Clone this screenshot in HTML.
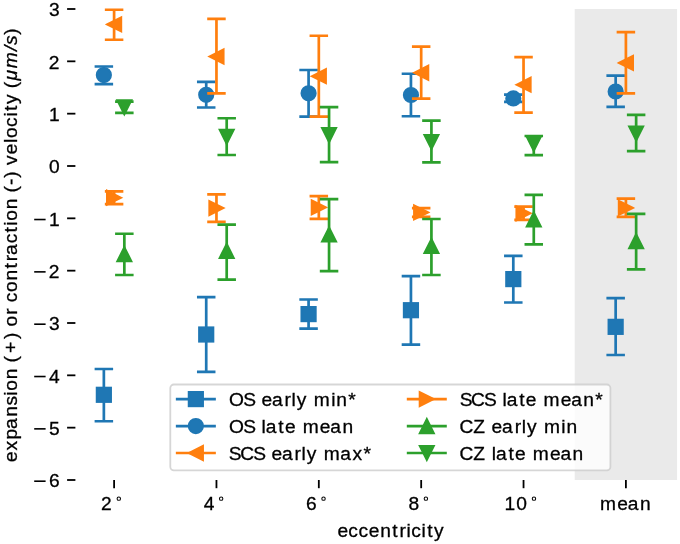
<!DOCTYPE html>
<html><head><meta charset="utf-8"><title>chart</title><style>
html,body{margin:0;padding:0;background:#fff;}
svg{display:block;will-change:transform;}
text{font-family:"Liberation Sans",sans-serif;font-size:19.2px;fill:#000;stroke:#000;stroke-width:0.3px;}
</style></head><body>
<svg width="680" height="544" viewBox="0 0 680 544">
<rect x="0" y="0" width="680" height="544" fill="#fff"/>
<rect x="574.72" y="9" width="102.36" height="471" fill="#eaeaea"/>
<path d="M103.86 369.00V421.25M94.61 369.00H113.11M94.61 421.25H113.11" stroke="#1f77b4" stroke-width="2.7" fill="none"/>
<rect x="96.66" y="387.60" width="14.40" height="14.40" fill="#1f77b4" stroke="#1f77b4" stroke-width="1.8"/>
<path d="M206.22 297.20V371.90M196.97 297.20H215.47M196.97 371.90H215.47" stroke="#1f77b4" stroke-width="2.7" fill="none"/>
<rect x="199.02" y="327.30" width="14.40" height="14.40" fill="#1f77b4" stroke="#1f77b4" stroke-width="1.8"/>
<path d="M308.58 299.50V328.70M299.33 299.50H317.83M299.33 328.70H317.83" stroke="#1f77b4" stroke-width="2.7" fill="none"/>
<rect x="301.38" y="306.90" width="14.40" height="14.40" fill="#1f77b4" stroke="#1f77b4" stroke-width="1.8"/>
<path d="M410.94 276.20V344.60M401.69 276.20H420.19M401.69 344.60H420.19" stroke="#1f77b4" stroke-width="2.7" fill="none"/>
<rect x="403.74" y="303.00" width="14.40" height="14.40" fill="#1f77b4" stroke="#1f77b4" stroke-width="1.8"/>
<path d="M513.30 255.90V302.50M504.05 255.90H522.55M504.05 302.50H522.55" stroke="#1f77b4" stroke-width="2.7" fill="none"/>
<rect x="506.10" y="271.90" width="14.40" height="14.40" fill="#1f77b4" stroke="#1f77b4" stroke-width="1.8"/>
<path d="M615.66 298.20V355.00M606.41 298.20H624.91M606.41 355.00H624.91" stroke="#1f77b4" stroke-width="2.7" fill="none"/>
<rect x="608.46" y="319.65" width="14.40" height="14.40" fill="#1f77b4" stroke="#1f77b4" stroke-width="1.8"/>
<path d="M103.86 66.50V84.10M94.61 66.50H113.11M94.61 84.10H113.11" stroke="#1f77b4" stroke-width="2.7" fill="none"/>
<circle cx="103.86" cy="75.05" r="7.20" fill="#1f77b4" stroke="#1f77b4" stroke-width="1.8"/>
<path d="M206.22 81.90V107.50M196.97 81.90H215.47M196.97 107.50H215.47" stroke="#1f77b4" stroke-width="2.7" fill="none"/>
<circle cx="206.22" cy="94.85" r="7.20" fill="#1f77b4" stroke="#1f77b4" stroke-width="1.8"/>
<path d="M308.58 70.00V116.60M299.33 70.00H317.83M299.33 116.60H317.83" stroke="#1f77b4" stroke-width="2.7" fill="none"/>
<circle cx="308.58" cy="93.30" r="7.20" fill="#1f77b4" stroke="#1f77b4" stroke-width="1.8"/>
<path d="M410.94 73.75V116.25M401.69 73.75H420.19M401.69 116.25H420.19" stroke="#1f77b4" stroke-width="2.7" fill="none"/>
<circle cx="410.94" cy="95.00" r="7.20" fill="#1f77b4" stroke="#1f77b4" stroke-width="1.8"/>
<path d="M513.30 94.70V101.90M504.05 94.70H522.55M504.05 101.90H522.55" stroke="#1f77b4" stroke-width="2.7" fill="none"/>
<circle cx="513.30" cy="98.40" r="7.20" fill="#1f77b4" stroke="#1f77b4" stroke-width="1.8"/>
<path d="M615.66 75.70V106.90M606.41 75.70H624.91M606.41 106.90H624.91" stroke="#1f77b4" stroke-width="2.7" fill="none"/>
<circle cx="615.66" cy="91.50" r="7.20" fill="#1f77b4" stroke="#1f77b4" stroke-width="1.8"/>
<path d="M114.10 9.75V39.75M104.85 9.75H123.35M104.85 39.75H123.35" stroke="#ff7f0e" stroke-width="2.7" fill="none"/>
<polygon points="106.90,24.40 121.30,17.20 121.30,31.60" fill="#ff7f0e" stroke="#ff7f0e" stroke-width="1.8"/>
<path d="M216.46 18.90V93.30M207.21 18.90H225.71M207.21 93.30H225.71" stroke="#ff7f0e" stroke-width="2.7" fill="none"/>
<polygon points="209.26,56.50 223.66,49.30 223.66,63.70" fill="#ff7f0e" stroke="#ff7f0e" stroke-width="1.8"/>
<path d="M318.82 35.75V116.70M309.57 35.75H328.07M309.57 116.70H328.07" stroke="#ff7f0e" stroke-width="2.7" fill="none"/>
<polygon points="311.62,76.20 326.02,69.00 326.02,83.40" fill="#ff7f0e" stroke="#ff7f0e" stroke-width="1.8"/>
<path d="M421.18 46.70V98.70M411.93 46.70H430.43M411.93 98.70H430.43" stroke="#ff7f0e" stroke-width="2.7" fill="none"/>
<polygon points="413.98,72.75 428.38,65.55 428.38,79.95" fill="#ff7f0e" stroke="#ff7f0e" stroke-width="1.8"/>
<path d="M523.54 57.10V112.60M514.29 57.10H532.79M514.29 112.60H532.79" stroke="#ff7f0e" stroke-width="2.7" fill="none"/>
<polygon points="516.34,84.70 530.74,77.50 530.74,91.90" fill="#ff7f0e" stroke="#ff7f0e" stroke-width="1.8"/>
<path d="M625.90 32.10V93.30M616.65 32.10H635.15M616.65 93.30H635.15" stroke="#ff7f0e" stroke-width="2.7" fill="none"/>
<polygon points="618.70,62.90 633.10,55.70 633.10,70.10" fill="#ff7f0e" stroke="#ff7f0e" stroke-width="1.8"/>
<path d="M114.10 191.40V204.10M104.85 191.40H123.35M104.85 204.10H123.35" stroke="#ff7f0e" stroke-width="2.7" fill="none"/>
<polygon points="121.30,197.70 106.90,190.50 106.90,204.90" fill="#ff7f0e" stroke="#ff7f0e" stroke-width="1.8"/>
<path d="M216.46 194.46V221.80M207.21 194.46H225.71M207.21 221.80H225.71" stroke="#ff7f0e" stroke-width="2.7" fill="none"/>
<polygon points="223.66,208.10 209.26,200.90 209.26,215.30" fill="#ff7f0e" stroke="#ff7f0e" stroke-width="1.8"/>
<path d="M318.82 196.20V218.80M309.57 196.20H328.07M309.57 218.80H328.07" stroke="#ff7f0e" stroke-width="2.7" fill="none"/>
<polygon points="326.02,207.40 311.62,200.20 311.62,214.60" fill="#ff7f0e" stroke="#ff7f0e" stroke-width="1.8"/>
<path d="M421.18 208.10V216.85M411.93 208.10H430.43M411.93 216.85H430.43" stroke="#ff7f0e" stroke-width="2.7" fill="none"/>
<polygon points="428.38,212.40 413.98,205.20 413.98,219.60" fill="#ff7f0e" stroke="#ff7f0e" stroke-width="1.8"/>
<path d="M523.54 206.70V219.80M514.29 206.70H532.79M514.29 219.80H532.79" stroke="#ff7f0e" stroke-width="2.7" fill="none"/>
<polygon points="530.74,213.30 516.34,206.10 516.34,220.50" fill="#ff7f0e" stroke="#ff7f0e" stroke-width="1.8"/>
<path d="M625.90 198.70V216.80M616.65 198.70H635.15M616.65 216.80H635.15" stroke="#ff7f0e" stroke-width="2.7" fill="none"/>
<polygon points="633.10,207.90 618.70,200.70 618.70,215.10" fill="#ff7f0e" stroke="#ff7f0e" stroke-width="1.8"/>
<path d="M124.34 233.75V275.00M115.09 233.75H133.59M115.09 275.00H133.59" stroke="#2ca02c" stroke-width="2.7" fill="none"/>
<polygon points="124.34,246.90 117.14,261.30 131.54,261.30" fill="#2ca02c" stroke="#2ca02c" stroke-width="1.8"/>
<path d="M226.70 224.60V279.60M217.45 224.60H235.95M217.45 279.60H235.95" stroke="#2ca02c" stroke-width="2.7" fill="none"/>
<polygon points="226.70,243.60 219.50,258.00 233.90,258.00" fill="#2ca02c" stroke="#2ca02c" stroke-width="1.8"/>
<path d="M329.06 199.20V271.10M319.81 199.20H338.31M319.81 271.10H338.31" stroke="#2ca02c" stroke-width="2.7" fill="none"/>
<polygon points="329.06,227.30 321.86,241.70 336.26,241.70" fill="#2ca02c" stroke="#2ca02c" stroke-width="1.8"/>
<path d="M431.42 219.00V275.00M422.17 219.00H440.67M422.17 275.00H440.67" stroke="#2ca02c" stroke-width="2.7" fill="none"/>
<polygon points="431.42,238.80 424.22,253.20 438.62,253.20" fill="#2ca02c" stroke="#2ca02c" stroke-width="1.8"/>
<path d="M533.78 194.80V244.40M524.53 194.80H543.03M524.53 244.40H543.03" stroke="#2ca02c" stroke-width="2.7" fill="none"/>
<polygon points="533.78,212.20 526.58,226.60 540.98,226.60" fill="#2ca02c" stroke="#2ca02c" stroke-width="1.8"/>
<path d="M636.14 213.80V269.40M626.89 213.80H645.39M626.89 269.40H645.39" stroke="#2ca02c" stroke-width="2.7" fill="none"/>
<polygon points="636.14,234.00 628.94,248.40 643.34,248.40" fill="#2ca02c" stroke="#2ca02c" stroke-width="1.8"/>
<path d="M124.34 101.70V112.80M115.09 101.70H133.59M115.09 112.80H133.59" stroke="#2ca02c" stroke-width="2.7" fill="none"/>
<polygon points="124.34,114.50 117.14,100.10 131.54,100.10" fill="#2ca02c" stroke="#2ca02c" stroke-width="1.8"/>
<path d="M226.70 118.24V155.00M217.45 118.24H235.95M217.45 155.00H235.95" stroke="#2ca02c" stroke-width="2.7" fill="none"/>
<polygon points="226.70,144.00 219.50,129.60 233.90,129.60" fill="#2ca02c" stroke="#2ca02c" stroke-width="1.8"/>
<path d="M329.06 107.20V162.10M319.81 107.20H338.31M319.81 162.10H338.31" stroke="#2ca02c" stroke-width="2.7" fill="none"/>
<polygon points="329.06,142.40 321.86,128.00 336.26,128.00" fill="#2ca02c" stroke="#2ca02c" stroke-width="1.8"/>
<path d="M431.42 120.70V162.40M422.17 120.70H440.67M422.17 162.40H440.67" stroke="#2ca02c" stroke-width="2.7" fill="none"/>
<polygon points="431.42,149.20 424.22,134.80 438.62,134.80" fill="#2ca02c" stroke="#2ca02c" stroke-width="1.8"/>
<path d="M533.78 136.00V155.20M524.53 136.00H543.03M524.53 155.20H543.03" stroke="#2ca02c" stroke-width="2.7" fill="none"/>
<polygon points="533.78,151.00 526.58,136.60 540.98,136.60" fill="#2ca02c" stroke="#2ca02c" stroke-width="1.8"/>
<path d="M636.14 114.90V151.20M626.89 114.90H645.39M626.89 151.20H645.39" stroke="#2ca02c" stroke-width="2.7" fill="none"/>
<polygon points="636.14,140.70 628.94,126.30 643.34,126.30" fill="#2ca02c" stroke="#2ca02c" stroke-width="1.8"/>
<line x1="67.1" y1="9.00" x2="75.4" y2="9.00" stroke="#000" stroke-width="1.8"/>
<text y="16.30" xml:space="preserve"><tspan x="49.06">3</tspan></text>
<line x1="67.1" y1="61.33" x2="75.4" y2="61.33" stroke="#000" stroke-width="1.8"/>
<text y="68.63" xml:space="preserve"><tspan x="48.79">2</tspan></text>
<line x1="67.1" y1="113.67" x2="75.4" y2="113.67" stroke="#000" stroke-width="1.8"/>
<text y="120.97" xml:space="preserve"><tspan x="48.94">1</tspan></text>
<line x1="67.1" y1="166.00" x2="75.4" y2="166.00" stroke="#000" stroke-width="1.8"/>
<text y="173.30" xml:space="preserve"><tspan x="49.03">0</tspan></text>
<line x1="67.1" y1="218.33" x2="75.4" y2="218.33" stroke="#000" stroke-width="1.8"/>
<text y="225.63" xml:space="preserve"><tspan x="48.94">1</tspan></text>
<rect x="34.2" y="218.73" width="11.4" height="1.6" fill="#000"/>
<line x1="67.1" y1="270.67" x2="75.4" y2="270.67" stroke="#000" stroke-width="1.8"/>
<text y="277.97" xml:space="preserve"><tspan x="48.79">2</tspan></text>
<rect x="34.2" y="271.07" width="11.4" height="1.6" fill="#000"/>
<line x1="67.1" y1="323.00" x2="75.4" y2="323.00" stroke="#000" stroke-width="1.8"/>
<text y="330.30" xml:space="preserve"><tspan x="49.06">3</tspan></text>
<rect x="34.2" y="323.40" width="11.4" height="1.6" fill="#000"/>
<line x1="67.1" y1="375.33" x2="75.4" y2="375.33" stroke="#000" stroke-width="1.8"/>
<text y="382.63" xml:space="preserve"><tspan x="49.03">4</tspan></text>
<rect x="34.2" y="375.73" width="11.4" height="1.6" fill="#000"/>
<line x1="67.1" y1="427.66" x2="75.4" y2="427.66" stroke="#000" stroke-width="1.8"/>
<text y="434.96" xml:space="preserve"><tspan x="48.96">5</tspan></text>
<rect x="34.2" y="428.06" width="11.4" height="1.6" fill="#000"/>
<line x1="67.1" y1="480.00" x2="75.4" y2="480.00" stroke="#000" stroke-width="1.8"/>
<text y="487.30" xml:space="preserve"><tspan x="49.04">6</tspan></text>
<rect x="34.2" y="480.40" width="11.4" height="1.6" fill="#000"/>
<line x1="114.10" y1="480" x2="114.10" y2="488.2" stroke="#000" stroke-width="1.8"/>
<line x1="216.46" y1="480" x2="216.46" y2="488.2" stroke="#000" stroke-width="1.8"/>
<line x1="318.82" y1="480" x2="318.82" y2="488.2" stroke="#000" stroke-width="1.8"/>
<line x1="421.18" y1="480" x2="421.18" y2="488.2" stroke="#000" stroke-width="1.8"/>
<line x1="523.54" y1="480" x2="523.54" y2="488.2" stroke="#000" stroke-width="1.8"/>
<line x1="625.90" y1="480" x2="625.90" y2="488.2" stroke="#000" stroke-width="1.8"/>
<text y="510.30" xml:space="preserve"><tspan x="101.09">2</tspan></text>
<circle cx="118.80" cy="498.65" r="1.7" fill="none" stroke="#000" stroke-width="1.05"/>
<text y="510.30" xml:space="preserve"><tspan x="203.69">4</tspan></text>
<circle cx="221.16" cy="498.65" r="1.7" fill="none" stroke="#000" stroke-width="1.05"/>
<text y="510.30" xml:space="preserve"><tspan x="306.05">6</tspan></text>
<circle cx="323.52" cy="498.65" r="1.7" fill="none" stroke="#000" stroke-width="1.05"/>
<text y="510.30" xml:space="preserve"><tspan x="408.41">8</tspan></text>
<circle cx="425.88" cy="498.65" r="1.7" fill="none" stroke="#000" stroke-width="1.05"/>
<text y="510.30" xml:space="preserve"><tspan x="504.59 516.33">10</tspan></text>
<circle cx="533.97" cy="498.65" r="1.7" fill="none" stroke="#000" stroke-width="1.05"/>
<text y="510.40" xml:space="preserve"><tspan x="600.10 617.29 627.80 639.94">mean</tspan></text>
<text y="537.00" xml:space="preserve"><tspan x="337.42 348.36 358.42 368.80 380.23 392.20 399.42 406.45 411.13 421.59 427.13 434.04">eccentricity</tspan></text>
<g transform="translate(17.3,0) rotate(-90)"><text y="0.00" xml:space="preserve"><tspan x="-461.97 -450.44 -439.58 -428.95 -416.79 -405.57 -395.70 -390.75 -379.29 -368.18 -362.46 -353.11 -338.96 -332.67 -326.57 -314.70 -308.08 -302.23 -291.89 -280.44 -268.45 -261.21 -255.00 -243.33 -232.39 -225.66 -220.71 -209.25 -198.14 -192.42 -185.05 -177.67 -171.38 -164.93 -154.36 -143.00 -138.05 -127.08 -116.59 -111.04 -104.11 -93.88 -88.15">expansion (+) or contraction (-) velocity (</tspan><tspan x="-80.49 -68.31 -51.07 -45.12" font-style="italic">μm/s</tspan><tspan x="-34.76">)</tspan></text></g>
<rect x="170.3" y="384.5" width="440.1" height="85.8" rx="3.6" ry="3.6" fill="#fff" fill-opacity="0.8" stroke="#cccccc" stroke-opacity="0.8" stroke-width="1.8"/>
<line x1="175.85" y1="399.10" x2="215.85" y2="399.10" stroke="#1f77b4" stroke-width="2.7"/>
<rect x="188.65" y="391.90" width="14.40" height="14.40" fill="#1f77b4" stroke="#1f77b4" stroke-width="1.8"/>
<text y="406.15" xml:space="preserve"><tspan x="229.06 243.23 255.34 261.49 272.00 284.55 291.57 296.85 307.07 313.85 331.13 336.30 348.23">OS early min*</tspan></text>
<line x1="175.85" y1="426.05" x2="215.85" y2="426.05" stroke="#1f77b4" stroke-width="2.7"/>
<circle cx="195.85" cy="426.05" r="7.20" fill="#1f77b4" stroke="#1f77b4" stroke-width="1.8"/>
<text y="433.10" xml:space="preserve"><tspan x="229.06 243.23 255.34 261.57 265.82 278.33 284.96 295.89 302.67 319.86 330.37 342.51">OS late mean</tspan></text>
<line x1="175.85" y1="453.00" x2="215.85" y2="453.00" stroke="#ff7f0e" stroke-width="2.7"/>
<polygon points="188.65,453.00 203.05,445.80 203.05,460.20" fill="#ff7f0e" stroke="#ff7f0e" stroke-width="1.8"/>
<text y="460.05" xml:space="preserve"><tspan x="228.83 240.29 253.22 265.33 271.48 281.99 294.54 301.56 306.84 317.06 323.84 340.28 352.49 363.58">SCS early max*</tspan></text>
<line x1="406.80" y1="399.10" x2="446.80" y2="399.10" stroke="#ff7f0e" stroke-width="2.7"/>
<polygon points="434.00,399.10 419.60,391.90 419.60,406.30" fill="#ff7f0e" stroke="#ff7f0e" stroke-width="1.8"/>
<text y="406.15" xml:space="preserve"><tspan x="459.65 471.11 484.04 496.15 502.38 506.63 519.14 525.77 536.70 543.49 560.67 571.18 583.32 595.25">SCS late mean*</tspan></text>
<line x1="406.80" y1="426.05" x2="446.80" y2="426.05" stroke="#2ca02c" stroke-width="2.7"/>
<polygon points="426.80,418.85 419.60,433.25 434.00,433.25" fill="#2ca02c" stroke="#2ca02c" stroke-width="1.8"/>
<text y="433.10" xml:space="preserve"><tspan x="459.50 473.32 485.46 491.60 502.11 514.67 521.68 526.97 537.19 543.97 561.25 566.41">CZ early min</tspan></text>
<line x1="406.80" y1="453.00" x2="446.80" y2="453.00" stroke="#2ca02c" stroke-width="2.7"/>
<polygon points="426.80,460.20 419.60,445.80 434.00,445.80" fill="#2ca02c" stroke="#2ca02c" stroke-width="1.8"/>
<text y="460.05" xml:space="preserve"><tspan x="459.50 473.32 485.46 491.68 495.94 508.45 515.08 526.01 532.79 549.98 560.49 572.62">CZ late mean</tspan></text>
</svg>
</body></html>
